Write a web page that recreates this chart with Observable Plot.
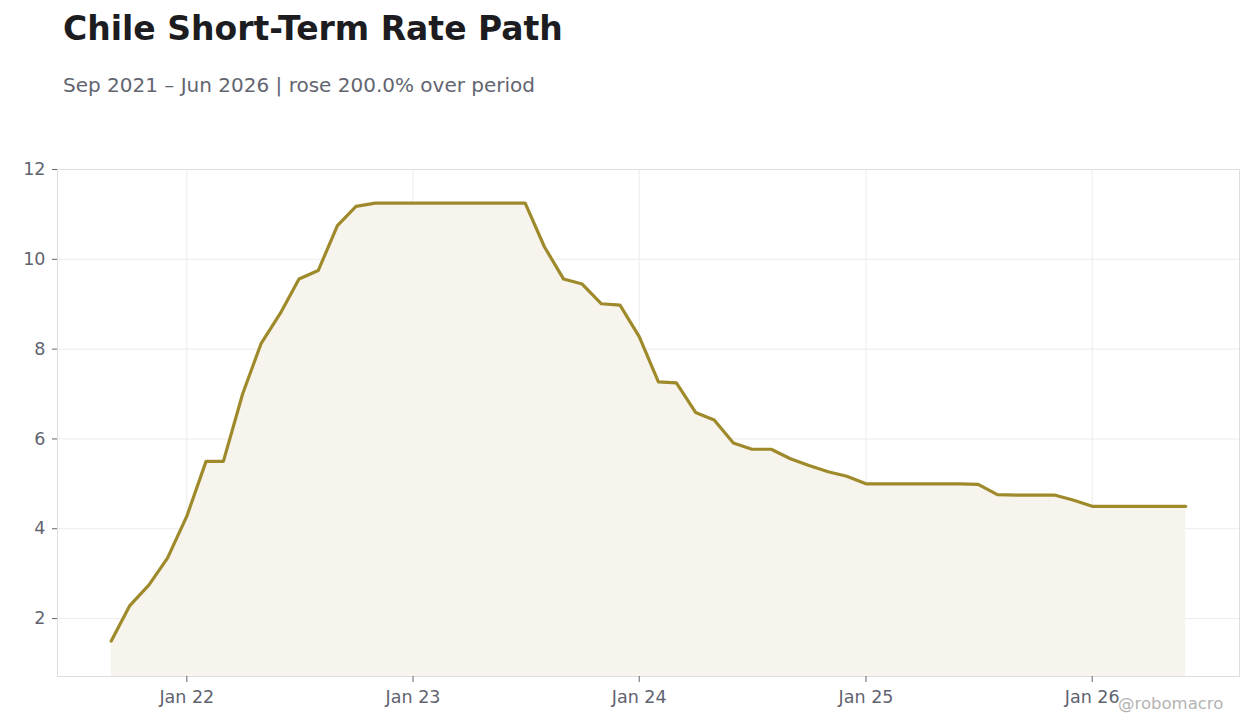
<!DOCTYPE html>
<html>
<head>
<meta charset="utf-8">
<script src="https://cdn.jsdelivr.net/npm/d3@7"></script>
<script src="https://cdn.jsdelivr.net/npm/@observablehq/plot@0.6"></script>
<style>
  html, body { margin: 0; padding: 0; background: #ffffff; }
  body { width: 1260px; height: 728px; position: relative; overflow: hidden; font-family: "DejaVu Sans", sans-serif; }
  #title { position: absolute; left: 63px; top: 9px; font-size: 33px; font-weight: bold; color: #1c1c21; white-space: nowrap; }
  #subtitle { position: absolute; left: 63px; top: 73px; font-size: 20px; color: #636570; white-space: nowrap; }
  #chart { position: absolute; left: 0; top: 130px; }
  #credit { position: absolute; left: 1118px; top: 694px; font-size: 16.5px; color: #b3b3b3; white-space: nowrap; }
</style>
</head>
<body>
<div id="title">Chile Short-Term Rate Path</div>
<div id="subtitle">Sep 2021 – Jun 2026 | rose 200.0% over period</div>
<div id="chart"></div>
<div id="credit">@robomacro</div>
<script>
const months = [
  "2021-09","2021-10","2021-11","2021-12",
  "2022-01","2022-02","2022-03","2022-04","2022-05","2022-06","2022-07","2022-08","2022-09","2022-10","2022-11","2022-12",
  "2023-01","2023-02","2023-03","2023-04","2023-05","2023-06","2023-07","2023-08","2023-09","2023-10","2023-11","2023-12",
  "2024-01","2024-02","2024-03","2024-04","2024-05","2024-06","2024-07","2024-08","2024-09","2024-10","2024-11","2024-12",
  "2025-01","2025-02","2025-03","2025-04","2025-05","2025-06","2025-07","2025-08","2025-09","2025-10","2025-11","2025-12",
  "2026-01","2026-02","2026-03","2026-04","2026-05","2026-06"
];
const rates = [
  1.50, 2.29, 2.75, 3.35,
  4.28, 5.50, 5.50, 7.00, 8.13, 8.80, 9.56, 9.75, 10.75, 11.18, 11.25, 11.25,
  11.25, 11.25, 11.25, 11.25, 11.25, 11.25, 11.25, 10.28, 9.56, 9.45, 9.01, 8.98,
  8.28, 7.27, 7.25, 6.59, 6.42, 5.91, 5.77, 5.77, 5.56, 5.41, 5.27, 5.17,
  5.00, 5.00, 5.00, 5.00, 5.00, 5.00, 4.99, 4.76, 4.75, 4.75, 4.75, 4.64,
  4.50, 4.50, 4.50, 4.50, 4.50, 4.50
];
const yTicks = [2, 4, 6, 8, 10, 12];
const xTickDates = ["2022-01-01","2023-01-01","2024-01-01","2025-01-01","2026-01-01"];

const data = months.map((m, i) => ({date: new Date(m + "-01T00:00:00Z"), rate: rates[i]}));
const yMin = 0.71, yMax = 12;
const t0 = data[0].date.getTime(), t1 = data[data.length - 1].date.getTime();
const pad = (t1 - t0) * 0.05;
const xDomain = [new Date(t0 - pad), new Date(t1 + pad)];
const xTicks = xTickDates.map(d => new Date(d + "T00:00:00Z"));

const lineColor = "#9e8a2b";
const chart = Plot.plot({
  width: 1260,
  height: 598,
  marginTop: 39,
  marginBottom: 52,
  marginLeft: 57,
  marginRight: 21,
  style: {fontFamily: "DejaVu Sans, sans-serif", fontSize: "17.5px", color: "#5f6370", background: "transparent"},
  x: {type: "utc", domain: xDomain, label: null},
  y: {domain: [yMin, yMax], label: null},
  marks: [
    Plot.gridX(xTicks, {stroke: "#ebebeb", strokeOpacity: 1, strokeWidth: 1}),
    Plot.gridY(yTicks, {stroke: "#ebebeb", strokeOpacity: 1, strokeWidth: 1}),
    Plot.areaY(data, {x: "date", y1: yMin, y2: "rate", fill: "#f7f4ee", fillOpacity: 1}),
    Plot.lineY(data, {x: "date", y: "rate", stroke: lineColor, strokeWidth: 3.2, strokeLinejoin: "round"}),
    Plot.frame({stroke: "#dedee2", strokeWidth: 1}),
    Plot.axisX(xTicks, {tickFormat: d3.utcFormat("%b %y"), tickSize: 6, tickPadding: 8, stroke: "#5f6370", fill: "#5f6370", fontSize: 17.5}),
    Plot.axisY(yTicks, {tickSize: 5, tickPadding: 7, stroke: "#5f6370", fill: "#5f6370", fontSize: 17.5})
  ]
});
document.getElementById("chart").appendChild(chart);
</script>
</body>
</html>
